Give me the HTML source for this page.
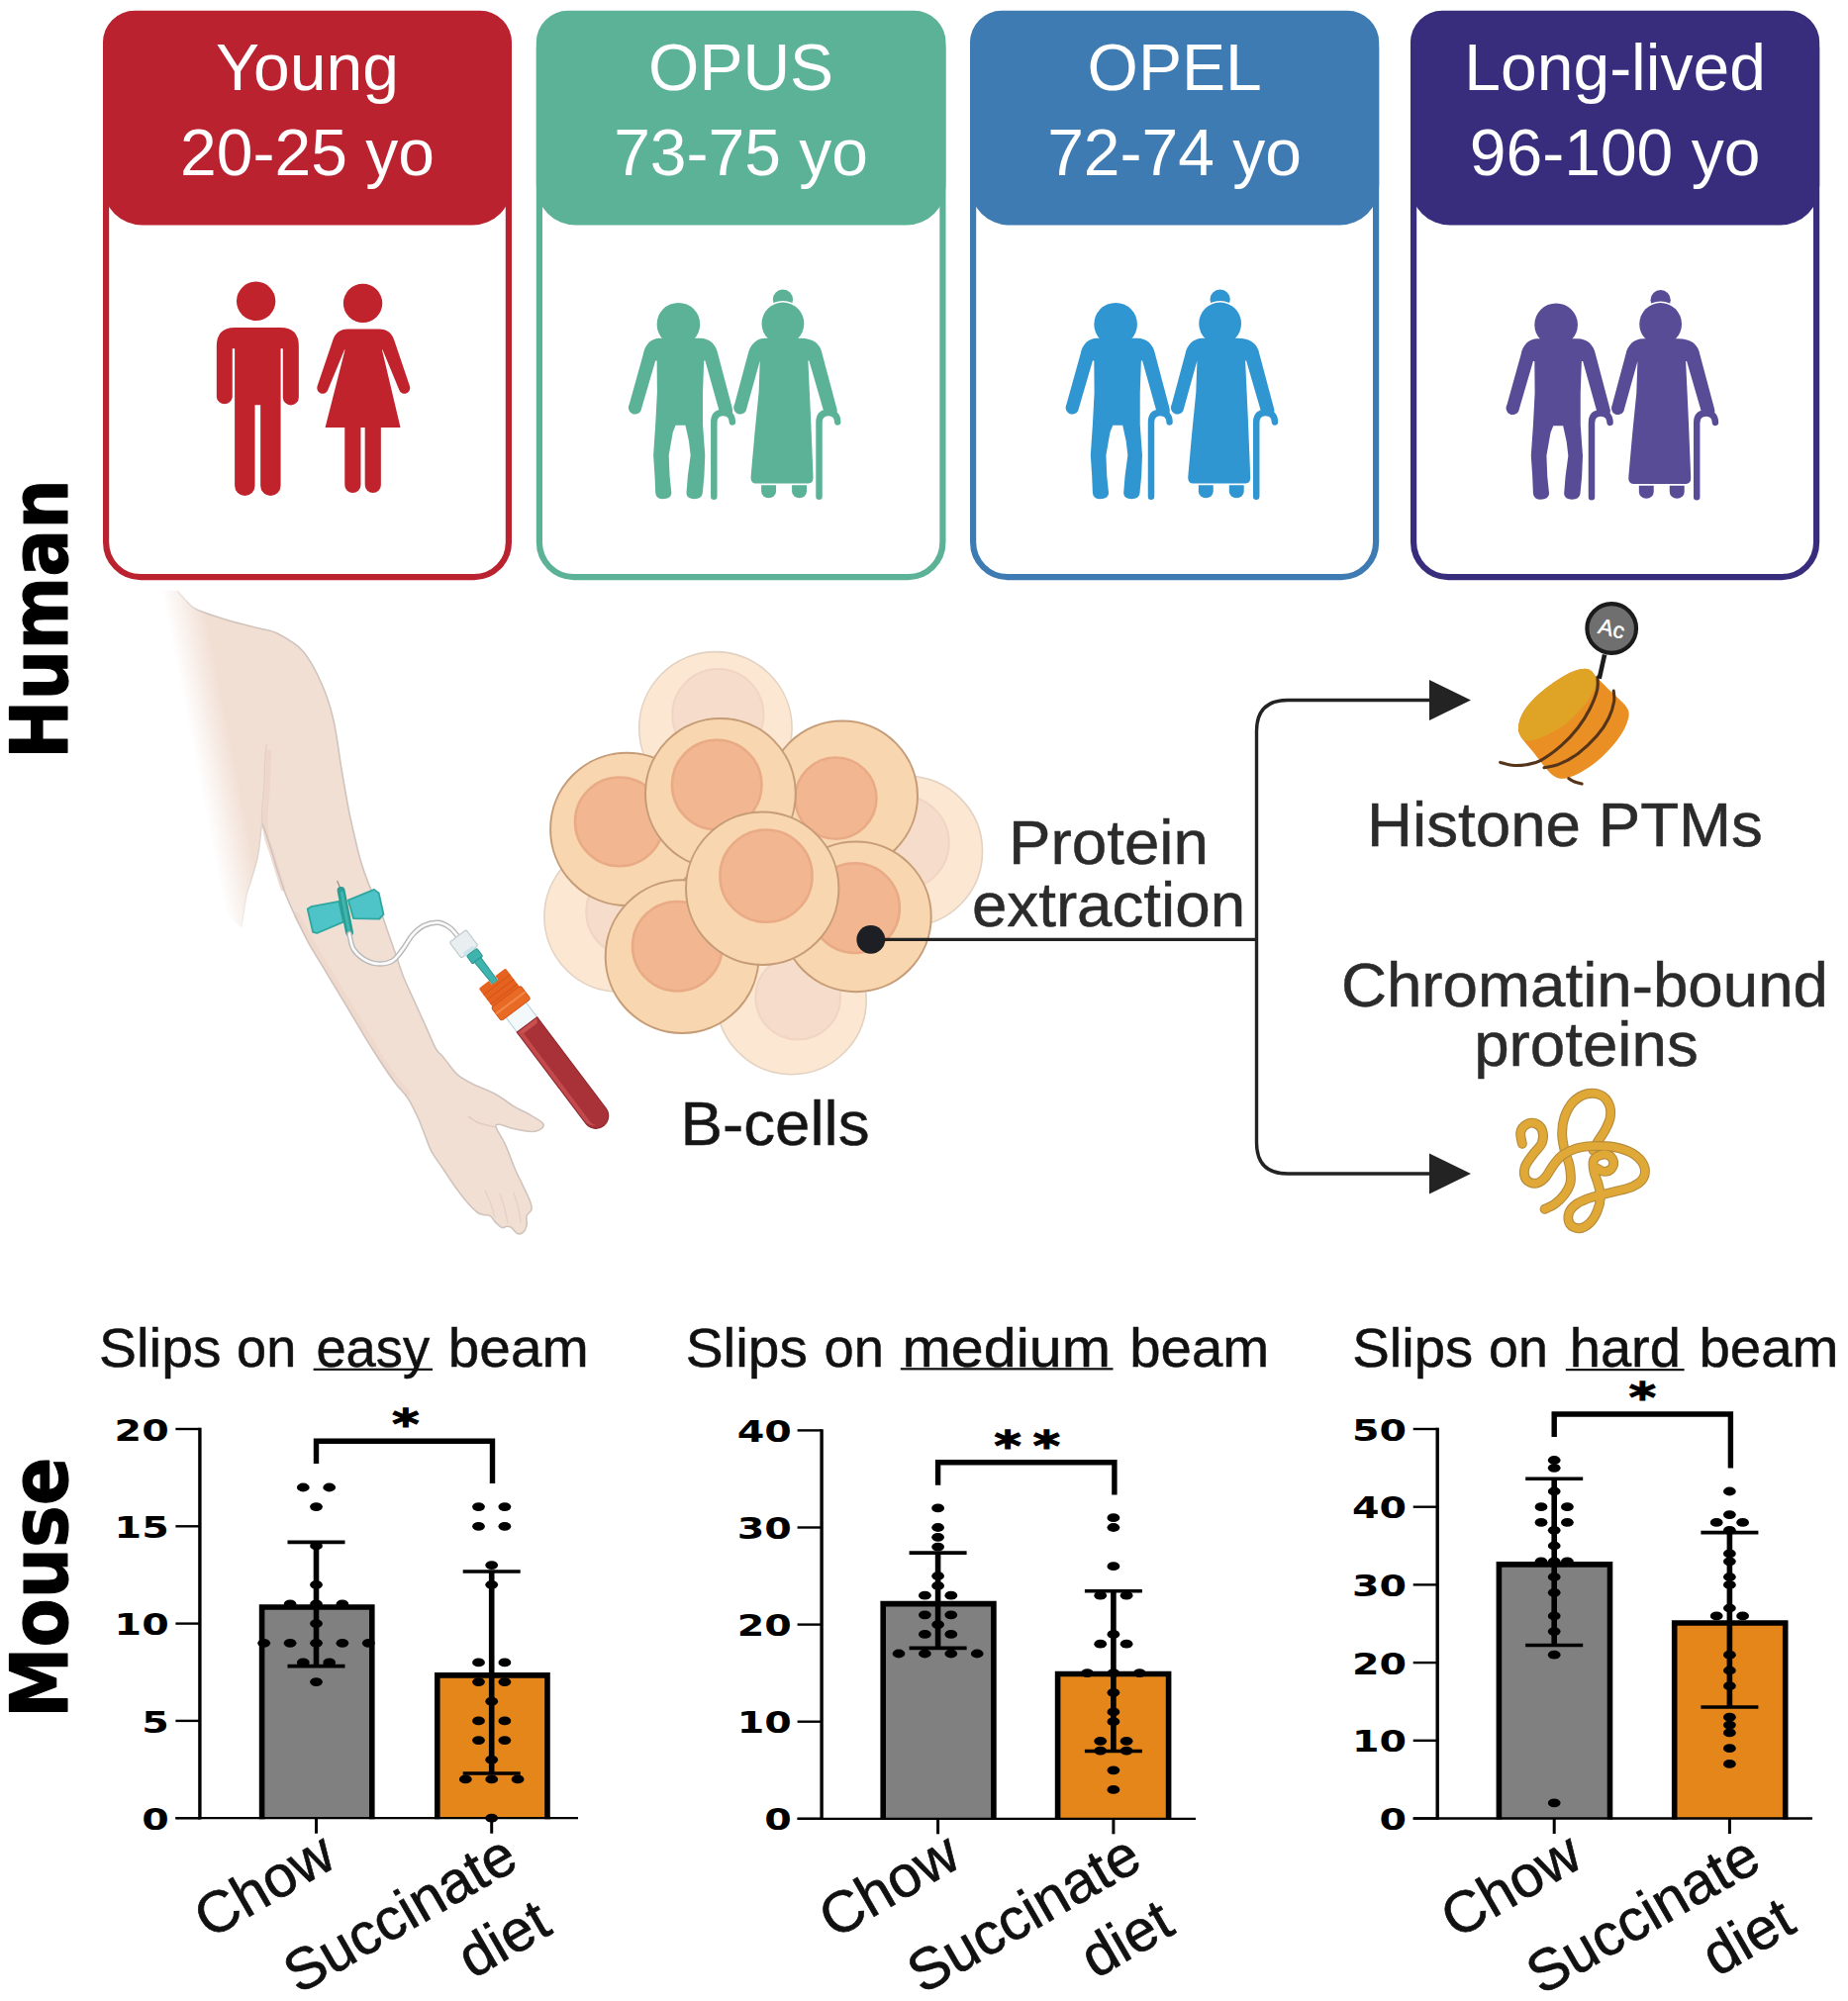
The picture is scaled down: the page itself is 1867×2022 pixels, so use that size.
<!DOCTYPE html>
<html lang="en">
<head>
<meta charset="utf-8">
<title>Graphical abstract</title>
<style>
html,body{margin:0;padding:0;background:#fff;}
body{width:1867px;height:2022px;overflow:hidden;}
svg{display:block;}
text{font-family:"Liberation Sans",sans-serif;}
.hd{font-size:66px;fill:#fff;text-anchor:middle;}
.side{font-family:"DejaVu Sans","Liberation Sans",sans-serif;font-weight:bold;fill:#000;stroke:#000;stroke-width:1.1px;stroke-linejoin:round;}
.lbl{font-size:63.7px;fill:#2b2b2b;text-anchor:middle;stroke:#2b2b2b;stroke-width:0.5px;}
.ttl{font-size:55px;fill:#111;stroke:#111;stroke-width:0.5px;}
.star{font-family:"DejaVu Sans","Liberation Sans",sans-serif;font-weight:bold;font-size:40px;fill:#000;stroke:#000;stroke-width:1.2px;}
.tick{font-family:"DejaVu Sans","Liberation Sans",sans-serif;font-weight:bold;font-size:30px;fill:#000;text-anchor:end;}
.xl{font-size:59px;fill:#111;text-anchor:end;stroke:#111;stroke-width:0.7px;}
</style>
</head>
<body>
<svg width="1867" height="2022" viewBox="0 0 1867 2022">
<defs>
<g id="oldpair">
  <circle cx="465" cy="410" r="155"/>
  <path d="M330,510 C270,510 225,555 213,622 L112,985 A43,43 0 0 0 195,1032 L300,672 L310,672 L312,900 L300,1130 L285,1350 L295,1500 L300,1622 Q305,1665 355,1665 Q410,1665 415,1625 L402,1500 L396,1350 L425,1185 L445,1135 L515,1135 L540,1250 L552,1350 L532,1500 L522,1625 Q525,1665 580,1665 Q632,1665 638,1625 L650,1500 L656,1350 L640,1130 L640,900 L648,672 L657,672 L757,1030 Q790,1075 830,1065 Q865,1050 850,1008 L748,622 C735,555 690,510 620,510 Z"/>
  <path d="M720,1648 L720,1115 Q720,1045 785,1045 Q850,1045 852,1112" stroke="currentColor" stroke-width="46" stroke-linecap="round" fill="none"/>
  <circle cx="1215" cy="232" r="72"/>
  <circle cx="1215" cy="405" r="163" fill="#fff"/>
  <path d="M1090,510 C1025,510 978,555 965,622 L868,985 A43,43 0 0 0 950,1032 L1050,672 L1042,900 L1012,1200 L985,1505 Q982,1552 1020,1553 L1400,1553 Q1436,1550 1432,1500 L1416,1100 L1396,672 L1403,672 L1507,1030 Q1540,1075 1580,1065 Q1615,1050 1600,1008 L1497,622 C1485,555 1440,510 1340,510 Z"/>
  <circle cx="1215" cy="405" r="152"/>
  <path d="M1060,1566 L1166,1566 L1166,1610 A53,48 0 0 1 1060,1610 Z"/>
  <path d="M1280,1566 L1386,1566 L1386,1610 A53,48 0 0 1 1280,1610 Z"/>
  <path d="M1475,1648 L1475,1115 Q1475,1045 1542,1045 Q1606,1045 1608,1112" stroke="currentColor" stroke-width="46" stroke-linecap="round" fill="none"/>
</g>
<linearGradient id="fadeL" gradientUnits="userSpaceOnUse" x1="168" y1="620" x2="206" y2="612.5">
<stop offset="0" stop-color="#fff" stop-opacity="1"/><stop offset="1" stop-color="#fff" stop-opacity="0"/>
</linearGradient>
<!-- DEFS2 -->
</defs>
<rect width="1867" height="2022" fill="#ffffff"/>

<!-- SIDE LABELS -->
<g id="side">
<text class="side" transform="translate(67.5,767) rotate(-90)" font-size="80" textLength="283" lengthAdjust="spacingAndGlyphs">Human</text>
<text class="side" transform="translate(67.5,1736) rotate(-90)" font-size="80" textLength="263.5" lengthAdjust="spacingAndGlyphs">Mouse</text>
</g>

<!-- CARDS -->
<g id="cards">
<rect x="107.1" y="14.1" width="406.8" height="569.0" rx="35" fill="#fff" stroke="#ba2230" stroke-width="6.2"/>
<path d="M136.0,10.8 L485.0,10.8 A32,32 0 0 1 517.0,42.8 L517.0,187.6 A40,40 0 0 1 477.0,227.6 L144.0,227.6 A40,40 0 0 1 104.0,187.6 L104.0,42.8 A32,32 0 0 1 136.0,10.8 Z" fill="#ba2230"/>
<text class="hd" x="310.5" y="91">Young</text>
<text class="hd" x="310.5" y="176.5">20-25 yo</text>
<rect x="544.9" y="14.1" width="407.5" height="569.0" rx="35" fill="#fff" stroke="#5cb296" stroke-width="6.2"/>
<path d="M573.8,10.8 L923.5,10.8 A32,32 0 0 1 955.5,42.8 L955.5,187.6 A40,40 0 0 1 915.5,227.6 L581.8,227.6 A40,40 0 0 1 541.8,187.6 L541.8,42.8 A32,32 0 0 1 573.8,10.8 Z" fill="#5cb296"/>
<text class="hd" x="748.6" y="91">OPUS</text>
<text class="hd" x="748.6" y="176.5">73-75 yo</text>
<rect x="983.1" y="14.1" width="407.0" height="569.0" rx="35" fill="#fff" stroke="#3e7bb3" stroke-width="6.2"/>
<path d="M1012.0,10.8 L1361.2,10.8 A32,32 0 0 1 1393.2,42.8 L1393.2,187.6 A40,40 0 0 1 1353.2,227.6 L1020.0,227.6 A40,40 0 0 1 980.0,187.6 L980.0,42.8 A32,32 0 0 1 1012.0,10.8 Z" fill="#3e7bb3"/>
<text class="hd" x="1186.6" y="91">OPEL</text>
<text class="hd" x="1186.6" y="176.5">72-74 yo</text>
<rect x="1428.1" y="14.1" width="407.0" height="569.0" rx="35" fill="#fff" stroke="#382d7d" stroke-width="6.2"/>
<path d="M1457.0,10.8 L1806.2,10.8 A32,32 0 0 1 1838.2,42.8 L1838.2,187.6 A40,40 0 0 1 1798.2,227.6 L1465.0,227.6 A40,40 0 0 1 1425.0,187.6 L1425.0,42.8 A32,32 0 0 1 1457.0,10.8 Z" fill="#382d7d"/>
<text class="hd" x="1631.6" y="91">Long-lived</text>
<text class="hd" x="1631.6" y="176.5">96-100 yo</text>
</g>

<g id="people">
<g transform="translate(190,260) scale(0.14069)" fill="#c1232d">
  <circle cx="488" cy="315" r="140"/>
  <path d="M335,505 L665,505 Q795,505 795,640 L795,1005 A57,57 0 0 1 681,1005 L681,655 L665,655 L665,1640 A72,72 0 0 1 520,1640 L520,1060 L480,1060 L480,1640 A72,72 0 0 1 335,1640 L335,655 L318,655 L318,1005 A57,57 0 0 1 205,1005 L205,640 Q205,505 335,505 Z"/>
  <circle cx="1255" cy="330" r="140"/>
  <path d="M1150,515 L1370,515 C1430,515 1465,545 1482,600 L1592,925 A40,40 0 0 1 1516,952 L1397,665 L1393,665 L1525,1222 L985,1222 L1127,665 L1123,665 L1004,952 A40,40 0 0 1 928,925 L1038,600 C1055,545 1090,515 1150,515 Z"/>
  <path d="M1125,1200 L1240,1200 L1240,1635 A57,57 0 0 1 1125,1635 Z"/>
  <path d="M1270,1200 L1385,1200 L1385,1635 A57,57 0 0 1 1270,1635 Z"/>
</g>
<use href="#oldpair" transform="translate(620,270) scale(0.14069)" fill="#5bb296" color="#5bb296"/>
<use href="#oldpair" transform="translate(1061.7,270) scale(0.14069)" fill="#2f96d2" color="#2f96d2"/>
<use href="#oldpair" transform="translate(1506.7,270.5) scale(0.14069)" fill="#584c96" color="#584c96"/>
</g>
<g id="arm">
<path d="M179.0,597.0 C180.5,598.7 184.7,603.8 188.0,607.0 C191.3,610.2 191.8,612.7 199.0,616.0 C206.2,619.3 220.5,623.8 231.0,627.0 C241.5,630.2 253.8,632.8 262.0,635.0 C270.2,637.2 272.7,636.2 280.0,640.0 C287.3,643.8 298.5,649.5 306.0,658.0 C313.5,666.5 319.8,679.3 325.0,691.0 C330.2,702.7 333.7,713.7 337.0,728.0 C340.3,742.3 342.5,762.2 345.0,777.0 C347.5,791.8 350.0,806.5 352.0,817.0 C354.0,827.5 354.9,831.2 357.0,840.0 C359.1,848.8 361.7,860.9 364.3,869.8 C366.9,878.7 369.4,885.7 372.6,893.6 C375.8,901.5 380.1,909.5 383.3,917.4 C386.5,925.3 388.9,933.3 391.7,941.2 C394.5,949.1 397.2,957.1 400.0,965.0 C402.8,972.9 405.1,980.9 408.3,988.8 C411.5,996.7 415.4,1004.7 419.0,1012.6 C422.6,1020.5 426.2,1028.5 429.8,1036.4 C433.4,1044.3 437.5,1054.8 440.5,1060.0 C443.5,1065.2 444.0,1063.6 447.6,1067.9 C451.2,1072.2 456.9,1081.2 461.9,1085.7 C466.9,1090.2 470.8,1091.8 477.4,1095.2 C483.9,1098.6 494.3,1102.2 501.2,1106.0 C508.1,1109.8 513.0,1114.3 519.0,1117.9 C525.0,1121.5 531.9,1124.4 536.9,1127.4 C541.9,1130.4 547.4,1133.3 548.8,1135.7 C550.2,1138.1 547.2,1140.4 545.2,1141.7 C543.2,1143.0 541.3,1143.7 536.9,1143.5 C532.5,1143.3 524.4,1141.7 519.0,1140.5 C513.6,1139.3 507.8,1136.5 504.8,1136.3 C501.8,1136.1 500.2,1135.8 501.2,1139.3 C502.2,1142.8 507.5,1150.1 510.7,1157.1 C513.9,1164.0 517.2,1174.0 520.2,1181.0 C523.2,1188.0 526.0,1193.2 528.6,1198.8 C531.2,1204.3 534.3,1210.3 535.7,1214.3 C537.1,1218.3 537.5,1220.2 536.9,1222.6 C536.3,1225.0 532.9,1226.0 532.1,1228.6 C531.3,1231.2 532.7,1235.3 532.1,1238.1 C531.5,1240.9 530.2,1243.8 528.6,1245.2 C527.0,1246.6 524.6,1247.2 522.6,1246.4 C520.6,1245.6 518.5,1241.7 516.7,1240.5 C514.9,1239.3 513.5,1239.3 511.9,1239.3 C510.3,1239.3 508.9,1241.1 507.1,1240.5 C505.3,1239.9 503.2,1237.7 501.2,1235.7 C499.2,1233.7 497.4,1230.0 495.2,1228.6 C493.0,1227.2 490.3,1228.0 488.1,1227.4 C485.9,1226.8 484.9,1227.2 482.1,1225.0 C479.3,1222.8 475.2,1218.7 471.4,1214.3 C467.6,1209.9 463.5,1204.3 459.5,1198.8 C455.5,1193.2 451.6,1187.0 447.6,1181.0 C443.6,1175.0 438.9,1169.1 435.7,1163.1 C432.5,1157.1 431.0,1151.2 428.6,1145.2 C426.2,1139.2 424.2,1133.4 421.4,1127.4 C418.6,1121.5 415.5,1114.9 411.9,1109.5 C408.3,1104.1 404.0,1100.5 400.0,1095.2 C396.0,1090.0 392.0,1083.9 388.0,1078.0 C384.0,1072.1 379.4,1065.0 376.2,1060.0 C373.0,1055.0 372.6,1054.2 369.0,1048.3 C365.4,1042.4 359.6,1032.4 354.8,1024.5 C350.1,1016.6 345.3,1008.6 340.5,1000.7 C335.7,992.8 331.0,984.8 326.2,976.9 C321.4,969.0 316.3,961.0 311.9,953.1 C307.5,945.2 303.8,937.2 300.0,929.3 C296.2,921.4 292.5,913.4 289.3,905.5 C286.1,897.6 283.6,889.6 281.0,881.7 C278.4,873.8 276.0,864.9 273.8,857.9 C271.6,850.9 269.4,844.3 267.9,840.0 C266.3,835.7 265.1,833.3 264.5,832.0 L260.7,863.8 L253.6,890.0 L249.0,905.0 L244.0,938.0 L230.0,925.0 L200.0,860.0 L178.0,760.0 L165.0,650.0 L165.0,597.0 Z" fill="#f2dfd4"/>
<path d="M272.0,760.0 C271.7,766.7 270.7,787.0 270.0,800.0 C269.3,813.0 267.0,827.0 268.0,838.0 C269.0,849.0 273.0,856.0 276.0,866.0 C279.0,876.0 284.3,892.7 286.0,898.0" fill="none" stroke="#ecd3c8" stroke-width="5" stroke-linecap="round" opacity="0.8"/>
<path d="M300.0,925.0 C303.0,930.5 310.5,945.0 318.0,958.0 C325.5,971.0 336.0,988.0 345.0,1003.0 C354.0,1018.0 363.7,1034.3 372.0,1048.0 C380.3,1061.7 388.3,1075.5 395.0,1085.0 C401.7,1094.5 409.2,1101.7 412.0,1105.0" fill="none" stroke="#eed4c9" stroke-width="6" stroke-linecap="round" opacity="0.7"/>
<path d="M179.0,597.0 C180.5,598.7 184.7,603.8 188.0,607.0 C191.3,610.2 191.8,612.7 199.0,616.0 C206.2,619.3 220.5,623.8 231.0,627.0 C241.5,630.2 253.8,632.8 262.0,635.0 C270.2,637.2 272.7,636.2 280.0,640.0 C287.3,643.8 298.5,649.5 306.0,658.0 C313.5,666.5 319.8,679.3 325.0,691.0 C330.2,702.7 333.7,713.7 337.0,728.0 C340.3,742.3 342.5,762.2 345.0,777.0 C347.5,791.8 350.0,806.5 352.0,817.0 C354.0,827.5 354.9,831.2 357.0,840.0 C359.1,848.8 361.7,860.9 364.3,869.8 C366.9,878.7 369.4,885.7 372.6,893.6 C375.8,901.5 380.1,909.5 383.3,917.4 C386.5,925.3 388.9,933.3 391.7,941.2 C394.5,949.1 397.2,957.1 400.0,965.0 C402.8,972.9 405.1,980.9 408.3,988.8 C411.5,996.7 415.4,1004.7 419.0,1012.6 C422.6,1020.5 426.2,1028.5 429.8,1036.4 C433.4,1044.3 437.5,1054.8 440.5,1060.0 C443.5,1065.2 444.0,1063.6 447.6,1067.9 C451.2,1072.2 456.9,1081.2 461.9,1085.7 C466.9,1090.2 470.8,1091.8 477.4,1095.2 C483.9,1098.6 494.3,1102.2 501.2,1106.0 C508.1,1109.8 513.0,1114.3 519.0,1117.9 C525.0,1121.5 531.9,1124.4 536.9,1127.4 C541.9,1130.4 547.4,1133.3 548.8,1135.7 C550.2,1138.1 547.2,1140.4 545.2,1141.7 C543.2,1143.0 541.3,1143.7 536.9,1143.5 C532.5,1143.3 524.4,1141.7 519.0,1140.5 C513.6,1139.3 507.8,1136.5 504.8,1136.3 C501.8,1136.1 500.2,1135.8 501.2,1139.3 C502.2,1142.8 507.5,1150.1 510.7,1157.1 C513.9,1164.0 517.2,1174.0 520.2,1181.0 C523.2,1188.0 526.0,1193.2 528.6,1198.8 C531.2,1204.3 534.3,1210.3 535.7,1214.3 C537.1,1218.3 537.5,1220.2 536.9,1222.6 C536.3,1225.0 532.9,1226.0 532.1,1228.6 C531.3,1231.2 532.7,1235.3 532.1,1238.1 C531.5,1240.9 530.2,1243.8 528.6,1245.2 C527.0,1246.6 524.6,1247.2 522.6,1246.4 C520.6,1245.6 518.5,1241.7 516.7,1240.5 C514.9,1239.3 513.5,1239.3 511.9,1239.3 C510.3,1239.3 508.9,1241.1 507.1,1240.5 C505.3,1239.9 503.2,1237.7 501.2,1235.7 C499.2,1233.7 497.4,1230.0 495.2,1228.6 C493.0,1227.2 490.3,1228.0 488.1,1227.4 C485.9,1226.8 484.9,1227.2 482.1,1225.0 C479.3,1222.8 475.2,1218.7 471.4,1214.3 C467.6,1209.9 463.5,1204.3 459.5,1198.8 C455.5,1193.2 451.6,1187.0 447.6,1181.0 C443.6,1175.0 438.9,1169.1 435.7,1163.1 C432.5,1157.1 431.0,1151.2 428.6,1145.2 C426.2,1139.2 424.2,1133.4 421.4,1127.4 C418.6,1121.5 415.5,1114.9 411.9,1109.5 C408.3,1104.1 404.0,1100.5 400.0,1095.2 C396.0,1090.0 392.0,1083.9 388.0,1078.0 C384.0,1072.1 379.4,1065.0 376.2,1060.0 C373.0,1055.0 372.6,1054.2 369.0,1048.3 C365.4,1042.4 359.6,1032.4 354.8,1024.5 C350.1,1016.6 345.3,1008.6 340.5,1000.7 C335.7,992.8 331.0,984.8 326.2,976.9 C321.4,969.0 316.3,961.0 311.9,953.1 C307.5,945.2 303.8,937.2 300.0,929.3 C296.2,921.4 292.5,913.4 289.3,905.5 C286.1,897.6 283.6,889.6 281.0,881.7 C278.4,873.8 276.0,864.9 273.8,857.9 C271.6,850.9 269.4,844.3 267.9,840.0 C266.3,835.7 265.1,833.3 264.5,832.0" fill="none" stroke="#d0c4bd" stroke-width="1.6" stroke-linejoin="round"/>
<path d="M264.5,832.0 C263.9,837.3 262.5,854.1 260.7,863.8 C258.9,873.5 255.5,883.1 253.6,890.0 C251.7,896.9 250.6,897.3 249.0,905.0 C247.4,912.7 244.8,930.8 244.0,936.0" fill="none" stroke="#ddd0c9" stroke-width="1.3"/>
<path d="M269.3,752.3 C269.0,756.1 267.9,768.2 267.5,775.0 C267.1,781.8 267.3,786.3 266.9,793.0 C266.5,799.7 265.4,808.5 265.0,815.0 C264.6,821.5 264.6,829.2 264.5,832.0" fill="none" stroke="#e3cfc6" stroke-width="1.4"/>
<path d="M473.0,1128.0 C474.5,1129.0 478.8,1132.5 482.0,1134.0 C485.2,1135.5 488.8,1136.2 492.0,1137.0 C495.2,1137.8 499.5,1138.7 501.0,1139.0" fill="none" stroke="#e2ccc2" stroke-width="1.6"/>
<path d="M519.0,1205.0 C519.8,1207.8 522.8,1216.8 524.0,1222.0 C525.2,1227.2 525.7,1233.7 526.0,1236.0" fill="none" stroke="#e6d1c7" stroke-width="1.4"/>
<path d="M505.0,1206.0 C505.8,1208.7 508.7,1217.0 510.0,1222.0 C511.3,1227.0 512.5,1233.7 513.0,1236.0" fill="none" stroke="#e6d1c7" stroke-width="1.4"/>
<path d="M490.0,1203.0 C491.0,1205.3 494.3,1212.5 496.0,1217.0 C497.7,1221.5 499.3,1227.8 500.0,1230.0" fill="none" stroke="#e6d1c7" stroke-width="1.4"/>
<rect x="80" y="588" width="240" height="372" fill="url(#fadeL)"/>
<path d="M310.7,918.6 L314.3,916.2 L342.3,910.8 L347.0,931.7 L320.2,943.0 L316.1,941.8 Z" fill="#4fc4c8" stroke="#2ea79f" stroke-width="1.8" stroke-linejoin="round"/>
<path d="M351.8,909.6 L378.0,898.9 L382.7,902.5 L387.5,923.9 L383.3,928.7 L357.1,928.1 Z" fill="#4fc4c8" stroke="#2ea79f" stroke-width="1.8" stroke-linejoin="round"/>
<path d="M344,898 L340.6,890" stroke="#9b8c86" stroke-width="1.2"/>
<path d="M344.6,900 L353,942" stroke="#2a9d94" stroke-width="8" stroke-linecap="round"/>
<path d="M345.3,902 L352.4,940" stroke="#3fb6ae" stroke-width="3" stroke-linecap="round"/>
<path d="M353.0,943.6 C353.1,944.2 352.9,944.5 353.6,947.1 C354.3,949.7 354.9,955.4 357.1,959.0 C359.3,962.6 362.7,966.1 366.7,968.6 C370.7,971.1 376.1,973.5 381.0,973.9 C385.9,974.3 392.0,973.5 396.4,971.0 C400.8,968.5 403.7,963.4 407.1,959.0 C410.5,954.6 413.1,948.8 416.7,944.8 C420.3,940.8 424.2,937.3 428.6,935.2 C433.0,933.1 438.5,931.9 442.9,932.3 C447.3,932.7 451.4,935.1 454.8,937.6 C458.2,940.1 461.7,945.5 463.1,947.1" fill="none" stroke="#b9b9b9" stroke-width="5.4" stroke-linecap="round"/>
<path d="M353.0,943.6 C353.1,944.2 352.9,944.5 353.6,947.1 C354.3,949.7 354.9,955.4 357.1,959.0 C359.3,962.6 362.7,966.1 366.7,968.6 C370.7,971.1 376.1,973.5 381.0,973.9 C385.9,974.3 392.0,973.5 396.4,971.0 C400.8,968.5 403.7,963.4 407.1,959.0 C410.5,954.6 413.1,948.8 416.7,944.8 C420.3,940.8 424.2,937.3 428.6,935.2 C433.0,933.1 438.5,931.9 442.9,932.3 C447.3,932.7 451.4,935.1 454.8,937.6 C458.2,940.1 461.7,945.5 463.1,947.1" fill="none" stroke="#fbfbfb" stroke-width="2.6" stroke-linecap="round"/>
<g transform="translate(497.2,988.6) rotate(-37)">
<rect x="-12.5" y="-55" width="21" height="20" rx="2" fill="#e9eef0" stroke="#c3cdd1" stroke-width="1.2"/>
<rect x="-8" y="-38" width="12" height="5" fill="#c9e3ea"/>
<rect x="-7" y="-33.5" width="13" height="10" rx="1.5" fill="#3fb3ad" stroke="#2a958f" stroke-width="1"/>
<path d="M-4.5,-24 L3.5,-24 L3,8 L-3,8 Z" fill="#3fb3ad" stroke="#2a958f" stroke-width="1"/>
<rect x="-12.7" y="36" width="25.4" height="26" fill="#f3f9fb" stroke="#bcd6df" stroke-width="1.2"/>
<path d="M-12.7,58.6 L12.7,58.6 L12.7,174 A12.7,12.7 0 0 1 -12.7,174 Z" fill="#a83238" stroke="#8f2a30" stroke-width="1.2"/>
<path d="M-12.1,59.2 L-8,63 L-8,176 A9,9 0 0 0 -5,182 A12.5,12.5 0 0 1 -12.1,174 Z" fill="#c24a4d"/>
<path d="M-12.1,59.2 L12.1,59.2 L9,63.5 L-8,63.5 Z" fill="#c9504f"/>
<path d="M-17,2 Q-17,0 -15,0 L-4,0 L-4,5 L4,5 L4,0 L15,0 Q17,0 17,2 L17,26 L-17,26 Z" fill="#e5621f"/>
<rect x="-18.5" y="23" width="37" height="17" rx="2.5" fill="#e96a25" stroke="#d4551a" stroke-width="1"/>
<path d="M-17,8 L17,8 M-17,14 L17,14 M-17,20 L17,20" stroke="#d8581c" stroke-width="1.4"/>
<path d="M-18.5,31 L18.5,31" stroke="#f08a4a" stroke-width="2"/>
</g>
</g>
<g id="cells">
<circle cx="722.9" cy="735.8" r="77.2" fill="#fbe7d2" stroke="#e3d2c2" stroke-width="1.6"/>
<circle cx="725.4" cy="722.2" r="46.1" fill="#f5dccb" stroke="#f1d5c2" stroke-width="2"/>
<circle cx="916.6" cy="860.3" r="75.9" fill="#fbe7d2" stroke="#e3d2c2" stroke-width="1.6"/>
<circle cx="911.4" cy="851.6" r="47.3" fill="#f5dccb" stroke="#f1d5c2" stroke-width="2"/>
<circle cx="625.8" cy="926.3" r="75.9" fill="#fbe7d2" stroke="#e3d2c2" stroke-width="1.6"/>
<circle cx="637.0" cy="921.3" r="44.8" fill="#f5dccb" stroke="#f1d5c2" stroke-width="2"/>
<circle cx="799.6" cy="1010.1" r="75.6" fill="#fbe7d2" stroke="#e3d2c2" stroke-width="1.6"/>
<circle cx="806.2" cy="1007.7" r="42.9" fill="#f5dccb" stroke="#f1d5c2" stroke-width="2"/>
<g>
<circle cx="633.3" cy="837.9" r="77.2" fill="#f8d6af" stroke="#c69c77" stroke-width="2"/>
<circle cx="625.8" cy="830.4" r="44.8" fill="#f2b690" stroke="#e9ab86" stroke-width="2.5"/></g>
<g>
<circle cx="851.1" cy="804.3" r="75.9" fill="#f8d6af" stroke="#c69c77" stroke-width="2"/>
<circle cx="844.4" cy="806.6" r="41.1" fill="#f2b690" stroke="#e9ab86" stroke-width="2.5"/></g>
<g>
<circle cx="727.9" cy="801.8" r="75.9" fill="#f8d6af" stroke="#c69c77" stroke-width="2"/>
<circle cx="724.2" cy="793.1" r="45.3" fill="#f2b690" stroke="#e9ab86" stroke-width="2.5"/></g>
<g>
<circle cx="864.8" cy="926.3" r="75.9" fill="#f8d6af" stroke="#c69c77" stroke-width="2"/>
<circle cx="863.6" cy="917.6" r="45.3" fill="#f2b690" stroke="#e9ab86" stroke-width="2.5"/></g>
<g>
<circle cx="689.1" cy="966.6" r="77.4" fill="#f8d6af" stroke="#c69c77" stroke-width="2"/>
<circle cx="684.3" cy="956.2" r="45.3" fill="#f2b690" stroke="#e9ab86" stroke-width="2.5"/></g>
<g>
<circle cx="770.2" cy="897.7" r="77.2" fill="#f8d6af" stroke="#c69c77" stroke-width="2"/>
<circle cx="774.0" cy="885.2" r="46.6" fill="#f2b690" stroke="#e9ab86" stroke-width="2.5"/></g>
</g>
<g id="flow">
<path d="M880,949.4 L1270.5,949.4" stroke="#232323" stroke-width="3.4" fill="none"/>
<path d="M1446,707.5 L1301,707.5 Q1269.5,707.5 1269.5,739 L1269.5,1154.5 Q1269.5,1186 1301,1186 L1446,1186" stroke="#232323" stroke-width="3.4" fill="none"/>
<path d="M1444,687 L1486,707.5 L1444,728 Z" fill="#232323"/>
<path d="M1444,1165.5 L1486,1186 L1444,1206.5 Z" fill="#232323"/>
<circle cx="879.8" cy="949.4" r="14.4" fill="#1d1f24"/>
<text class="lbl" x="1120" y="873">Protein</text>
<text class="lbl" x="1120" y="936">extraction</text>
<text class="lbl" x="1581" y="855">Histone PTMs</text>
<text class="lbl" x="1601" y="1017">Chromatin-bound</text>
<text class="lbl" x="1602.5" y="1077">proteins</text>
<text class="lbl" x="783" y="1157" style="fill:#151515">B-cells</text>
<g id="histone">
<path d="M1536.0,743.6 C1533.4,738.9 1533.6,737.0 1534.2,732.9 C1534.8,728.7 1536.6,723.3 1539.5,718.6 C1542.4,713.8 1547.1,708.7 1551.4,704.3 C1555.8,699.9 1560.6,696.2 1565.7,692.4 C1570.9,688.6 1577.2,684.3 1582.4,681.7 C1587.5,679.0 1592.7,677.1 1596.7,676.3 C1600.6,675.5 1603.5,675.6 1606.2,676.9 C1608.9,678.2 1609.0,680.2 1612.7,684.0 C1616.5,687.9 1623.6,694.8 1628.8,700.1 C1634.1,705.5 1641.8,711.1 1644.3,716.2 C1646.8,721.2 1645.5,725.1 1643.7,730.5 C1641.9,735.8 1638.0,742.4 1633.6,748.3 C1629.1,754.3 1622.7,761.0 1616.9,766.2 C1611.2,771.3 1604.8,775.9 1599.0,779.3 C1593.3,782.7 1586.9,785.4 1582.4,786.4 C1577.8,787.4 1574.8,786.6 1571.7,785.2 C1568.5,783.8 1567.0,782.2 1563.3,778.1 C1559.7,774.0 1554.2,766.6 1549.6,760.8 C1545.1,755.1 1538.5,748.2 1536.0,743.6 Z" fill="#ea8f24"/>
<path d="M1536.0,743.6 C1534.8,741.0 1533.6,737.0 1534.2,732.9 C1534.8,728.7 1536.6,723.3 1539.5,718.6 C1542.4,713.8 1547.1,708.7 1551.4,704.3 C1555.8,699.9 1560.6,696.2 1565.7,692.4 C1570.9,688.6 1577.2,684.3 1582.4,681.7 C1587.5,679.0 1592.7,677.1 1596.7,676.3 C1600.6,675.5 1603.6,675.5 1606.2,676.9 C1608.8,678.3 1611.6,681.6 1612.4,684.6 C1613.2,687.7 1612.6,691.1 1611.0,695.4 C1609.3,699.6 1606.6,705.0 1602.6,710.2 C1598.7,715.5 1592.5,722.1 1587.1,726.9 C1581.8,731.7 1576.2,735.4 1570.5,738.8 C1564.7,742.2 1557.5,745.5 1552.6,747.1 C1547.8,748.8 1544.1,749.2 1541.3,748.6 C1538.5,748.0 1537.1,746.2 1536.0,743.6 Z" fill="#dfa325"/>
<path d="M1613.9,684.0 C1613.9,686.2 1614.9,691.8 1613.6,697.1 C1612.3,702.5 1609.4,709.8 1606.2,716.2 C1603.0,722.5 1599.0,729.1 1594.3,735.2 C1589.5,741.4 1584.0,747.5 1577.6,753.1 C1571.3,758.7 1562.1,765.3 1556.2,768.6 C1550.2,771.8 1546.7,771.9 1541.9,772.7 C1537.1,773.5 1532.0,773.7 1527.6,773.3 C1523.3,772.9 1517.7,770.9 1515.7,770.4" fill="none" stroke="#553419" stroke-width="3.1" stroke-linecap="round"/>
<path d="M1630.2,698.1 C1630.3,699.9 1631.4,704.4 1630.6,709.0 C1629.8,713.7 1628.1,720.0 1625.2,725.7 C1622.4,731.5 1618.5,737.6 1613.3,743.6 C1608.2,749.5 1600.6,756.7 1594.3,761.4 C1587.9,766.2 1581.0,769.8 1575.2,772.1 C1569.5,774.5 1562.5,775.1 1560.0,775.7" fill="none" stroke="#553419" stroke-width="3.1" stroke-linecap="round"/>
<path d="M1584.8,786.7 C1585.8,787.2 1588.5,789.1 1590.7,790.0 C1592.9,790.9 1596.9,791.7 1598.1,792.0" fill="none" stroke="#553419" stroke-width="3.1" stroke-linecap="round"/>
<path d="M1621.1,661.4 L1615.7,685.8" stroke="#1c1c1c" stroke-width="4.6"/>
<circle cx="1628.2" cy="635.0" r="24.8" fill="#6f6f6f" stroke="#1b1b1b" stroke-width="4.2"/>
<text x="1628.2" y="642.8" transform="rotate(14 1628.2 635.0)" font-size="22.5" fill="#fff" stroke="#fff" stroke-width="0.4" text-anchor="middle">Ac</text>
</g>
<g id="protein" fill="none" stroke-linecap="round" stroke-linejoin="round">
<path d="M1560.6,1221.8 C1562.2,1221.0 1567.1,1219.2 1570.3,1216.9 C1573.6,1214.6 1577.4,1211.4 1580.1,1207.7 C1582.8,1204.0 1585.7,1199.8 1586.6,1194.7 C1587.5,1189.7 1586.5,1182.8 1585.5,1177.4 C1584.5,1172.0 1581.9,1167.7 1580.6,1162.3 C1579.4,1156.8 1578.1,1150.5 1578.1,1144.9 C1578.1,1139.3 1578.8,1133.9 1580.6,1128.7 C1582.5,1123.5 1585.6,1117.4 1589.3,1113.5 C1593.0,1109.7 1598.2,1106.6 1602.8,1105.4 C1607.4,1104.3 1613.1,1104.8 1616.9,1106.5 C1620.7,1108.2 1623.9,1112.0 1625.5,1115.7 C1627.2,1119.4 1627.5,1124.4 1626.8,1128.7 C1626.2,1133.0 1623.9,1137.5 1621.8,1141.7 C1619.6,1145.8 1616.2,1150.2 1614.2,1153.6 C1612.1,1157.0 1610.3,1160.8 1609.5,1162.3" stroke="#b58a3a" stroke-width="9.9"/>
<path d="M1560.6,1221.8 C1562.2,1221.0 1567.1,1219.2 1570.3,1216.9 C1573.6,1214.6 1577.4,1211.4 1580.1,1207.7 C1582.8,1204.0 1585.7,1199.8 1586.6,1194.7 C1587.5,1189.7 1586.5,1182.8 1585.5,1177.4 C1584.5,1172.0 1581.9,1167.7 1580.6,1162.3 C1579.4,1156.8 1578.1,1150.5 1578.1,1144.9 C1578.1,1139.3 1578.8,1133.9 1580.6,1128.7 C1582.5,1123.5 1585.6,1117.4 1589.3,1113.5 C1593.0,1109.7 1598.2,1106.6 1602.8,1105.4 C1607.4,1104.3 1613.1,1104.8 1616.9,1106.5 C1620.7,1108.2 1623.9,1112.0 1625.5,1115.7 C1627.2,1119.4 1627.5,1124.4 1626.8,1128.7 C1626.2,1133.0 1623.9,1137.5 1621.8,1141.7 C1619.6,1145.8 1616.2,1150.2 1614.2,1153.6 C1612.1,1157.0 1610.3,1160.8 1609.5,1162.3" stroke="#e0a836" stroke-width="7.7"/>
<path d="M1537.9,1155.8 C1537.6,1153.8 1535.5,1147.1 1536.3,1143.9 C1537.0,1140.6 1539.8,1137.7 1542.2,1136.3 C1544.6,1134.8 1548.3,1134.3 1550.9,1135.2 C1553.5,1136.1 1556.7,1138.4 1557.9,1141.7 C1559.1,1144.9 1559.4,1150.5 1557.9,1154.7 C1556.4,1158.8 1551.6,1162.4 1548.7,1166.6 C1545.8,1170.7 1541.8,1175.4 1540.6,1179.6 C1539.4,1183.7 1540.0,1188.8 1541.7,1191.5 C1543.4,1194.2 1547.7,1196.0 1550.9,1195.8 C1554.0,1195.6 1557.5,1193.5 1560.6,1190.4 C1563.7,1187.3 1566.4,1181.2 1569.3,1177.4 C1572.2,1173.6 1574.1,1170.5 1577.9,1167.7 C1581.7,1164.9 1586.9,1162.2 1592.0,1160.6 C1597.0,1159.0 1601.9,1158.4 1608.2,1158.1 C1614.5,1157.9 1623.0,1157.8 1629.9,1159.0 C1636.7,1160.2 1644.2,1162.4 1649.4,1165.5 C1654.5,1168.6 1658.9,1173.3 1660.7,1177.4 C1662.5,1181.6 1662.1,1186.8 1660.2,1190.4 C1658.3,1194.0 1654.4,1196.7 1649.4,1199.0 C1644.3,1201.4 1636.7,1202.7 1629.9,1204.5 C1623.0,1206.3 1614.4,1207.9 1608.2,1209.9 C1602.1,1211.9 1597.0,1213.7 1593.1,1216.4 C1589.2,1219.1 1586.1,1222.7 1585.0,1226.1 C1583.8,1229.5 1584.3,1234.4 1586.0,1236.9 C1587.8,1239.5 1591.9,1241.4 1595.2,1241.3 C1598.6,1241.1 1603.0,1238.7 1606.1,1235.8 C1609.1,1233.0 1611.8,1228.3 1613.6,1223.9 C1615.4,1219.6 1616.7,1214.4 1616.9,1209.9 C1617.1,1205.4 1615.8,1201.2 1614.7,1196.9 C1613.6,1192.6 1611.2,1187.9 1610.4,1183.9 C1609.6,1179.9 1609.0,1175.8 1609.8,1173.1 C1610.7,1170.4 1612.8,1168.7 1615.3,1167.7 C1617.7,1166.7 1622.0,1166.2 1624.5,1167.1 C1626.9,1168.0 1629.2,1170.8 1629.9,1173.1 C1630.5,1175.3 1629.8,1178.8 1628.2,1180.6 C1626.7,1182.5 1623.1,1183.9 1620.7,1183.9 C1618.2,1183.9 1614.8,1181.2 1613.6,1180.6" stroke="#b58a3a" stroke-width="9.9"/>
<path d="M1537.9,1155.8 C1537.6,1153.8 1535.5,1147.1 1536.3,1143.9 C1537.0,1140.6 1539.8,1137.7 1542.2,1136.3 C1544.6,1134.8 1548.3,1134.3 1550.9,1135.2 C1553.5,1136.1 1556.7,1138.4 1557.9,1141.7 C1559.1,1144.9 1559.4,1150.5 1557.9,1154.7 C1556.4,1158.8 1551.6,1162.4 1548.7,1166.6 C1545.8,1170.7 1541.8,1175.4 1540.6,1179.6 C1539.4,1183.7 1540.0,1188.8 1541.7,1191.5 C1543.4,1194.2 1547.7,1196.0 1550.9,1195.8 C1554.0,1195.6 1557.5,1193.5 1560.6,1190.4 C1563.7,1187.3 1566.4,1181.2 1569.3,1177.4 C1572.2,1173.6 1574.1,1170.5 1577.9,1167.7 C1581.7,1164.9 1586.9,1162.2 1592.0,1160.6 C1597.0,1159.0 1601.9,1158.4 1608.2,1158.1 C1614.5,1157.9 1623.0,1157.8 1629.9,1159.0 C1636.7,1160.2 1644.2,1162.4 1649.4,1165.5 C1654.5,1168.6 1658.9,1173.3 1660.7,1177.4 C1662.5,1181.6 1662.1,1186.8 1660.2,1190.4 C1658.3,1194.0 1654.4,1196.7 1649.4,1199.0 C1644.3,1201.4 1636.7,1202.7 1629.9,1204.5 C1623.0,1206.3 1614.4,1207.9 1608.2,1209.9 C1602.1,1211.9 1597.0,1213.7 1593.1,1216.4 C1589.2,1219.1 1586.1,1222.7 1585.0,1226.1 C1583.8,1229.5 1584.3,1234.4 1586.0,1236.9 C1587.8,1239.5 1591.9,1241.4 1595.2,1241.3 C1598.6,1241.1 1603.0,1238.7 1606.1,1235.8 C1609.1,1233.0 1611.8,1228.3 1613.6,1223.9 C1615.4,1219.6 1616.7,1214.4 1616.9,1209.9 C1617.1,1205.4 1615.8,1201.2 1614.7,1196.9 C1613.6,1192.6 1611.2,1187.9 1610.4,1183.9 C1609.6,1179.9 1609.0,1175.8 1609.8,1173.1 C1610.7,1170.4 1612.8,1168.7 1615.3,1167.7 C1617.7,1166.7 1622.0,1166.2 1624.5,1167.1 C1626.9,1168.0 1629.2,1170.8 1629.9,1173.1 C1630.5,1175.3 1629.8,1178.8 1628.2,1180.6 C1626.7,1182.5 1623.1,1183.9 1620.7,1183.9 C1618.2,1183.9 1614.8,1181.2 1613.6,1180.6" stroke="#e0a836" stroke-width="7.7"/>
</g>
</g>
<g id="charts">
<text class="ttl" x="100.0" y="1380.8" textLength="123.4" lengthAdjust="spacingAndGlyphs">Slips</text>
<text class="ttl" x="239.1" y="1380.8" textLength="60.2" lengthAdjust="spacingAndGlyphs">on</text>
<text class="ttl" x="319.4" y="1380.8" textLength="114.7" lengthAdjust="spacingAndGlyphs">easy</text>
<text class="ttl" x="452.8" y="1380.8" textLength="141.9" lengthAdjust="spacingAndGlyphs">beam</text>
<rect x="316.6" y="1382.7" width="120.4" height="2.2" fill="#111"/>
<text class="ttl" x="692.7" y="1380.6" textLength="123.2" lengthAdjust="spacingAndGlyphs">Slips</text>
<text class="ttl" x="832.6" y="1380.6" textLength="60.4" lengthAdjust="spacingAndGlyphs">on</text>
<text class="ttl" x="911.5" y="1380.6" textLength="210.6" lengthAdjust="spacingAndGlyphs">medium</text>
<text class="ttl" x="1141.3" y="1380.6" textLength="140.9" lengthAdjust="spacingAndGlyphs">beam</text>
<rect x="909.8" y="1382.2" width="214.7" height="2.2" fill="#111"/>
<text class="ttl" x="1366.2" y="1380.6" textLength="122.1" lengthAdjust="spacingAndGlyphs">Slips</text>
<text class="ttl" x="1504.0" y="1380.6" textLength="59.8" lengthAdjust="spacingAndGlyphs">on</text>
<text class="ttl" x="1585.8" y="1380.6" textLength="112.1" lengthAdjust="spacingAndGlyphs">hard</text>
<text class="ttl" x="1716.4" y="1380.6" textLength="141.1" lengthAdjust="spacingAndGlyphs">beam</text>
<rect x="1581.8" y="1383" width="119.8" height="2.2" fill="#111"/>
<rect x="264.3" y="1623.7" width="111.8" height="213.5" fill="#808080"/>
<path d="M264.6,1838.2 L264.6,1624.0 L375.8,1624.0 L375.8,1838.2" fill="none" stroke="#000" stroke-width="5.6"/>
<rect x="441.5" y="1692.6" width="111.8" height="144.6" fill="#e5861a"/>
<path d="M441.8,1838.2 L441.8,1692.9 L553.0,1692.9 L553.0,1838.2" fill="none" stroke="#000" stroke-width="5.6"/>
<path d="M201.9,1442.8 L201.9,1838.4" stroke="#000" stroke-width="3.4"/>
<path d="M177.4,1837.2 L584.0,1837.2" stroke="#000" stroke-width="2.3"/>
<path d="M177.4,1837.2 L201.9,1837.2" stroke="#000" stroke-width="2.4"/>
<text class="tick" transform="translate(170.7,1848.8) scale(1.32,1)">0</text>
<path d="M177.4,1738.9 L201.9,1738.9" stroke="#000" stroke-width="2.4"/>
<text class="tick" transform="translate(170.7,1750.5) scale(1.32,1)">5</text>
<path d="M177.4,1640.6 L201.9,1640.6" stroke="#000" stroke-width="2.4"/>
<text class="tick" transform="translate(170.7,1652.2) scale(1.32,1)">10</text>
<path d="M177.4,1542.3 L201.9,1542.3" stroke="#000" stroke-width="2.4"/>
<text class="tick" transform="translate(170.7,1553.9) scale(1.32,1)">15</text>
<path d="M177.4,1444.0 L201.9,1444.0" stroke="#000" stroke-width="2.4"/>
<text class="tick" transform="translate(170.7,1455.6) scale(1.32,1)">20</text>
<path d="M319.5,1837.2 L319.5,1852.7" stroke="#000" stroke-width="3"/>
<path d="M496.7,1837.2 L496.7,1852.7" stroke="#000" stroke-width="3"/>
<ellipse cx="306.3" cy="1503.0" rx="6.4" ry="4.4" fill="#000"/>
<ellipse cx="332.7" cy="1503.0" rx="6.4" ry="4.4" fill="#000"/>
<ellipse cx="319.5" cy="1522.6" rx="6.4" ry="4.4" fill="#000"/>
<ellipse cx="319.5" cy="1562.0" rx="6.4" ry="4.4" fill="#000"/>
<ellipse cx="319.5" cy="1601.3" rx="6.4" ry="4.4" fill="#000"/>
<ellipse cx="293.1" cy="1620.9" rx="6.4" ry="4.4" fill="#000"/>
<ellipse cx="319.5" cy="1620.9" rx="6.4" ry="4.4" fill="#000"/>
<ellipse cx="345.9" cy="1620.9" rx="6.4" ry="4.4" fill="#000"/>
<ellipse cx="319.5" cy="1640.6" rx="6.4" ry="4.4" fill="#000"/>
<ellipse cx="266.7" cy="1660.3" rx="6.4" ry="4.4" fill="#000"/>
<ellipse cx="293.1" cy="1660.3" rx="6.4" ry="4.4" fill="#000"/>
<ellipse cx="319.5" cy="1660.3" rx="6.4" ry="4.4" fill="#000"/>
<ellipse cx="345.9" cy="1660.3" rx="6.4" ry="4.4" fill="#000"/>
<ellipse cx="372.3" cy="1660.3" rx="6.4" ry="4.4" fill="#000"/>
<ellipse cx="306.3" cy="1679.9" rx="6.4" ry="4.4" fill="#000"/>
<ellipse cx="332.7" cy="1679.9" rx="6.4" ry="4.4" fill="#000"/>
<ellipse cx="319.5" cy="1699.6" rx="6.4" ry="4.4" fill="#000"/>
<ellipse cx="483.5" cy="1522.6" rx="6.4" ry="4.4" fill="#000"/>
<ellipse cx="509.9" cy="1522.6" rx="6.4" ry="4.4" fill="#000"/>
<ellipse cx="483.5" cy="1542.3" rx="6.4" ry="4.4" fill="#000"/>
<ellipse cx="509.9" cy="1542.3" rx="6.4" ry="4.4" fill="#000"/>
<ellipse cx="496.7" cy="1581.6" rx="6.4" ry="4.4" fill="#000"/>
<ellipse cx="496.7" cy="1601.3" rx="6.4" ry="4.4" fill="#000"/>
<ellipse cx="483.5" cy="1679.9" rx="6.4" ry="4.4" fill="#000"/>
<ellipse cx="509.9" cy="1679.9" rx="6.4" ry="4.4" fill="#000"/>
<ellipse cx="483.5" cy="1699.6" rx="6.4" ry="4.4" fill="#000"/>
<ellipse cx="509.9" cy="1699.6" rx="6.4" ry="4.4" fill="#000"/>
<ellipse cx="496.7" cy="1719.2" rx="6.4" ry="4.4" fill="#000"/>
<ellipse cx="483.5" cy="1738.9" rx="6.4" ry="4.4" fill="#000"/>
<ellipse cx="509.9" cy="1738.9" rx="6.4" ry="4.4" fill="#000"/>
<ellipse cx="483.5" cy="1758.6" rx="6.4" ry="4.4" fill="#000"/>
<ellipse cx="509.9" cy="1758.6" rx="6.4" ry="4.4" fill="#000"/>
<ellipse cx="496.7" cy="1778.2" rx="6.4" ry="4.4" fill="#000"/>
<ellipse cx="470.3" cy="1797.9" rx="6.4" ry="4.4" fill="#000"/>
<ellipse cx="496.7" cy="1797.9" rx="6.4" ry="4.4" fill="#000"/>
<ellipse cx="523.1" cy="1797.9" rx="6.4" ry="4.4" fill="#000"/>
<ellipse cx="496.7" cy="1837.2" rx="6.4" ry="4.4" fill="#000"/>
<path d="M319.5,1558.4 L319.5,1683.6" stroke="#000" stroke-width="5.6"/>
<path d="M290.5,1558.4 L348.5,1558.4 M290.5,1683.6 L348.5,1683.6" stroke="#000" stroke-width="3.6"/>
<path d="M496.7,1588.0 L496.7,1792.0" stroke="#000" stroke-width="5.6"/>
<path d="M467.7,1588.0 L525.7,1588.0 M467.7,1792.0 L525.7,1792.0" stroke="#000" stroke-width="3.6"/>
<path d="M319.5,1479.0 L319.5,1456.2 L497.5,1456.2 L497.5,1499.0" fill="none" stroke="#000" stroke-width="5.4" stroke-linejoin="miter"/>
<text class="star" transform="translate(409.8,1452.8) scale(1.3,1)" text-anchor="middle">*</text>
<text class="xl" transform="translate(342.2,1884.6) rotate(-30)">Chow</text>
<text class="xl" transform="translate(526.1,1886.3) rotate(-30)">Succinate</text>
<text class="xl" transform="translate(559.9,1952.6) rotate(-30)">diet</text>
<rect x="891.9" y="1620.3" width="112.3" height="217.5" fill="#808080"/>
<path d="M892.2,1838.8 L892.2,1620.6 L1003.9,1620.6 L1003.9,1838.8" fill="none" stroke="#000" stroke-width="5.6"/>
<rect x="1068.3" y="1691.2" width="112.6" height="146.6" fill="#e5861a"/>
<path d="M1068.6,1838.8 L1068.6,1691.5 L1180.6,1691.5 L1180.6,1838.8" fill="none" stroke="#000" stroke-width="5.6"/>
<path d="M830.1,1444.2 L830.1,1839.0" stroke="#000" stroke-width="3.4"/>
<path d="M805.6,1837.8 L1208.0,1837.8" stroke="#000" stroke-width="2.3"/>
<path d="M805.6,1837.8 L830.1,1837.8" stroke="#000" stroke-width="2.4"/>
<text class="tick" transform="translate(799.8,1849.4) scale(1.32,1)">0</text>
<path d="M805.6,1739.7 L830.1,1739.7" stroke="#000" stroke-width="2.4"/>
<text class="tick" transform="translate(799.8,1751.3) scale(1.32,1)">10</text>
<path d="M805.6,1641.6 L830.1,1641.6" stroke="#000" stroke-width="2.4"/>
<text class="tick" transform="translate(799.8,1653.2) scale(1.32,1)">20</text>
<path d="M805.6,1543.5 L830.1,1543.5" stroke="#000" stroke-width="2.4"/>
<text class="tick" transform="translate(799.8,1555.1) scale(1.32,1)">30</text>
<path d="M805.6,1445.4 L830.1,1445.4" stroke="#000" stroke-width="2.4"/>
<text class="tick" transform="translate(799.8,1457.0) scale(1.32,1)">40</text>
<path d="M947.6,1837.8 L947.6,1853.3" stroke="#000" stroke-width="3"/>
<path d="M1124.9,1837.8 L1124.9,1853.3" stroke="#000" stroke-width="3"/>
<ellipse cx="947.6" cy="1523.9" rx="6.4" ry="4.4" fill="#000"/>
<ellipse cx="947.6" cy="1543.5" rx="6.4" ry="4.4" fill="#000"/>
<ellipse cx="947.6" cy="1553.3" rx="6.4" ry="4.4" fill="#000"/>
<ellipse cx="947.6" cy="1563.1" rx="6.4" ry="4.4" fill="#000"/>
<ellipse cx="947.6" cy="1592.5" rx="6.4" ry="4.4" fill="#000"/>
<ellipse cx="947.6" cy="1602.4" rx="6.4" ry="4.4" fill="#000"/>
<ellipse cx="934.4" cy="1612.2" rx="6.4" ry="4.4" fill="#000"/>
<ellipse cx="960.8" cy="1612.2" rx="6.4" ry="4.4" fill="#000"/>
<ellipse cx="934.4" cy="1631.8" rx="6.4" ry="4.4" fill="#000"/>
<ellipse cx="960.8" cy="1631.8" rx="6.4" ry="4.4" fill="#000"/>
<ellipse cx="947.6" cy="1641.6" rx="6.4" ry="4.4" fill="#000"/>
<ellipse cx="934.4" cy="1651.4" rx="6.4" ry="4.4" fill="#000"/>
<ellipse cx="960.8" cy="1651.4" rx="6.4" ry="4.4" fill="#000"/>
<ellipse cx="908.0" cy="1671.0" rx="6.4" ry="4.4" fill="#000"/>
<ellipse cx="934.4" cy="1671.0" rx="6.4" ry="4.4" fill="#000"/>
<ellipse cx="960.8" cy="1671.0" rx="6.4" ry="4.4" fill="#000"/>
<ellipse cx="987.2" cy="1671.0" rx="6.4" ry="4.4" fill="#000"/>
<ellipse cx="1124.9" cy="1533.7" rx="6.4" ry="4.4" fill="#000"/>
<ellipse cx="1124.9" cy="1543.5" rx="6.4" ry="4.4" fill="#000"/>
<ellipse cx="1124.9" cy="1582.7" rx="6.4" ry="4.4" fill="#000"/>
<ellipse cx="1111.7" cy="1612.2" rx="6.4" ry="4.4" fill="#000"/>
<ellipse cx="1138.1" cy="1612.2" rx="6.4" ry="4.4" fill="#000"/>
<ellipse cx="1124.9" cy="1651.4" rx="6.4" ry="4.4" fill="#000"/>
<ellipse cx="1111.7" cy="1661.2" rx="6.4" ry="4.4" fill="#000"/>
<ellipse cx="1138.1" cy="1661.2" rx="6.4" ry="4.4" fill="#000"/>
<ellipse cx="1098.5" cy="1690.6" rx="6.4" ry="4.4" fill="#000"/>
<ellipse cx="1124.9" cy="1690.6" rx="6.4" ry="4.4" fill="#000"/>
<ellipse cx="1151.3" cy="1690.6" rx="6.4" ry="4.4" fill="#000"/>
<ellipse cx="1124.9" cy="1710.3" rx="6.4" ry="4.4" fill="#000"/>
<ellipse cx="1124.9" cy="1729.9" rx="6.4" ry="4.4" fill="#000"/>
<ellipse cx="1124.9" cy="1739.7" rx="6.4" ry="4.4" fill="#000"/>
<ellipse cx="1111.7" cy="1759.3" rx="6.4" ry="4.4" fill="#000"/>
<ellipse cx="1138.1" cy="1759.3" rx="6.4" ry="4.4" fill="#000"/>
<ellipse cx="1111.7" cy="1769.1" rx="6.4" ry="4.4" fill="#000"/>
<ellipse cx="1138.1" cy="1769.1" rx="6.4" ry="4.4" fill="#000"/>
<ellipse cx="1124.9" cy="1788.8" rx="6.4" ry="4.4" fill="#000"/>
<ellipse cx="1124.9" cy="1808.4" rx="6.4" ry="4.4" fill="#000"/>
<path d="M947.6,1569.1 L947.6,1665.4" stroke="#000" stroke-width="5.6"/>
<path d="M918.6,1569.1 L976.6,1569.1 M918.6,1665.4 L976.6,1665.4" stroke="#000" stroke-width="3.6"/>
<path d="M1124.9,1607.7 L1124.9,1769.5" stroke="#000" stroke-width="5.6"/>
<path d="M1095.9,1607.7 L1153.9,1607.7 M1095.9,1769.5 L1153.9,1769.5" stroke="#000" stroke-width="3.6"/>
<path d="M947.6,1500.8 L947.6,1477.7 L1125.9,1477.7 L1125.9,1510.6" fill="none" stroke="#000" stroke-width="5.4" stroke-linejoin="miter"/>
<text class="star" transform="translate(1018.0,1474.8) scale(1.3,1)" text-anchor="middle">*</text>
<text class="star" transform="translate(1057.3,1474.8) scale(1.3,1)" text-anchor="middle">*</text>
<text class="xl" transform="translate(973.3,1884.6) rotate(-30)">Chow</text>
<text class="xl" transform="translate(1156.3,1886.3) rotate(-30)">Succinate</text>
<text class="xl" transform="translate(1189.1,1952.6) rotate(-30)">diet</text>
<rect x="1514.1" y="1580.6" width="112.7" height="256.9" fill="#808080"/>
<path d="M1514.4,1838.5 L1514.4,1580.9 L1626.5,1580.9 L1626.5,1838.5" fill="none" stroke="#000" stroke-width="5.6"/>
<rect x="1691.4" y="1639.7" width="112.6" height="197.8" fill="#e5861a"/>
<path d="M1691.7,1838.5 L1691.7,1640.0 L1803.7,1640.0 L1803.7,1838.5" fill="none" stroke="#000" stroke-width="5.6"/>
<path d="M1452.2,1442.8 L1452.2,1838.7" stroke="#000" stroke-width="3.4"/>
<path d="M1427.7,1837.5 L1831.0,1837.5" stroke="#000" stroke-width="2.3"/>
<path d="M1427.7,1837.5 L1452.2,1837.5" stroke="#000" stroke-width="2.4"/>
<text class="tick" transform="translate(1421.0,1849.1) scale(1.32,1)">0</text>
<path d="M1427.7,1758.8 L1452.2,1758.8" stroke="#000" stroke-width="2.4"/>
<text class="tick" transform="translate(1421.0,1770.4) scale(1.32,1)">10</text>
<path d="M1427.7,1680.1 L1452.2,1680.1" stroke="#000" stroke-width="2.4"/>
<text class="tick" transform="translate(1421.0,1691.7) scale(1.32,1)">20</text>
<path d="M1427.7,1601.4 L1452.2,1601.4" stroke="#000" stroke-width="2.4"/>
<text class="tick" transform="translate(1421.0,1613.0) scale(1.32,1)">30</text>
<path d="M1427.7,1522.7 L1452.2,1522.7" stroke="#000" stroke-width="2.4"/>
<text class="tick" transform="translate(1421.0,1534.3) scale(1.32,1)">40</text>
<path d="M1427.7,1444.0 L1452.2,1444.0" stroke="#000" stroke-width="2.4"/>
<text class="tick" transform="translate(1421.0,1455.6) scale(1.32,1)">50</text>
<path d="M1570.2,1837.5 L1570.2,1853.0" stroke="#000" stroke-width="3"/>
<path d="M1747.4,1837.5 L1747.4,1853.0" stroke="#000" stroke-width="3"/>
<ellipse cx="1570.2" cy="1475.5" rx="6.4" ry="4.4" fill="#000"/>
<ellipse cx="1570.2" cy="1483.3" rx="6.4" ry="4.4" fill="#000"/>
<ellipse cx="1570.2" cy="1507.0" rx="6.4" ry="4.4" fill="#000"/>
<ellipse cx="1557.0" cy="1522.7" rx="6.4" ry="4.4" fill="#000"/>
<ellipse cx="1583.4" cy="1522.7" rx="6.4" ry="4.4" fill="#000"/>
<ellipse cx="1557.0" cy="1538.4" rx="6.4" ry="4.4" fill="#000"/>
<ellipse cx="1583.4" cy="1538.4" rx="6.4" ry="4.4" fill="#000"/>
<ellipse cx="1570.2" cy="1546.3" rx="6.4" ry="4.4" fill="#000"/>
<ellipse cx="1570.2" cy="1562.0" rx="6.4" ry="4.4" fill="#000"/>
<ellipse cx="1557.0" cy="1577.8" rx="6.4" ry="4.4" fill="#000"/>
<ellipse cx="1570.2" cy="1577.8" rx="6.4" ry="4.4" fill="#000"/>
<ellipse cx="1583.4" cy="1577.8" rx="6.4" ry="4.4" fill="#000"/>
<ellipse cx="1570.2" cy="1593.5" rx="6.4" ry="4.4" fill="#000"/>
<ellipse cx="1570.2" cy="1609.3" rx="6.4" ry="4.4" fill="#000"/>
<ellipse cx="1570.2" cy="1632.9" rx="6.4" ry="4.4" fill="#000"/>
<ellipse cx="1570.2" cy="1648.6" rx="6.4" ry="4.4" fill="#000"/>
<ellipse cx="1570.2" cy="1672.2" rx="6.4" ry="4.4" fill="#000"/>
<ellipse cx="1570.2" cy="1821.8" rx="6.4" ry="4.4" fill="#000"/>
<ellipse cx="1747.4" cy="1507.0" rx="6.4" ry="4.4" fill="#000"/>
<ellipse cx="1747.4" cy="1530.6" rx="6.4" ry="4.4" fill="#000"/>
<ellipse cx="1734.2" cy="1538.4" rx="6.4" ry="4.4" fill="#000"/>
<ellipse cx="1760.6" cy="1538.4" rx="6.4" ry="4.4" fill="#000"/>
<ellipse cx="1747.4" cy="1546.3" rx="6.4" ry="4.4" fill="#000"/>
<ellipse cx="1747.4" cy="1569.9" rx="6.4" ry="4.4" fill="#000"/>
<ellipse cx="1747.4" cy="1577.8" rx="6.4" ry="4.4" fill="#000"/>
<ellipse cx="1747.4" cy="1593.5" rx="6.4" ry="4.4" fill="#000"/>
<ellipse cx="1747.4" cy="1601.4" rx="6.4" ry="4.4" fill="#000"/>
<ellipse cx="1747.4" cy="1625.0" rx="6.4" ry="4.4" fill="#000"/>
<ellipse cx="1734.2" cy="1632.9" rx="6.4" ry="4.4" fill="#000"/>
<ellipse cx="1760.6" cy="1632.9" rx="6.4" ry="4.4" fill="#000"/>
<ellipse cx="1747.4" cy="1672.2" rx="6.4" ry="4.4" fill="#000"/>
<ellipse cx="1747.4" cy="1688.0" rx="6.4" ry="4.4" fill="#000"/>
<ellipse cx="1747.4" cy="1703.7" rx="6.4" ry="4.4" fill="#000"/>
<ellipse cx="1747.4" cy="1735.2" rx="6.4" ry="4.4" fill="#000"/>
<ellipse cx="1747.4" cy="1743.1" rx="6.4" ry="4.4" fill="#000"/>
<ellipse cx="1747.4" cy="1750.9" rx="6.4" ry="4.4" fill="#000"/>
<ellipse cx="1747.4" cy="1766.7" rx="6.4" ry="4.4" fill="#000"/>
<ellipse cx="1747.4" cy="1782.4" rx="6.4" ry="4.4" fill="#000"/>
<path d="M1570.2,1494.3 L1570.2,1662.5" stroke="#000" stroke-width="5.6"/>
<path d="M1541.2,1494.3 L1599.2,1494.3 M1541.2,1662.5 L1599.2,1662.5" stroke="#000" stroke-width="3.6"/>
<path d="M1747.4,1548.6 L1747.4,1725.0" stroke="#000" stroke-width="5.6"/>
<path d="M1718.4,1548.6 L1776.4,1548.6 M1718.4,1725.0 L1776.4,1725.0" stroke="#000" stroke-width="3.6"/>
<path d="M1570.2,1452.0 L1570.2,1429.0 L1748.4,1429.0 L1748.4,1483.6" fill="none" stroke="#000" stroke-width="5.4" stroke-linejoin="miter"/>
<text class="star" transform="translate(1659.4,1426.0) scale(1.3,1)" text-anchor="middle">*</text>
<text class="xl" transform="translate(1601.7,1884.6) rotate(-30)">Chow</text>
<text class="xl" transform="translate(1781.8,1887.3) rotate(-30)">Succinate</text>
<text class="xl" transform="translate(1816.9,1950.6) rotate(-30)">diet</text>
</g>
</svg>
</body>
</html>
